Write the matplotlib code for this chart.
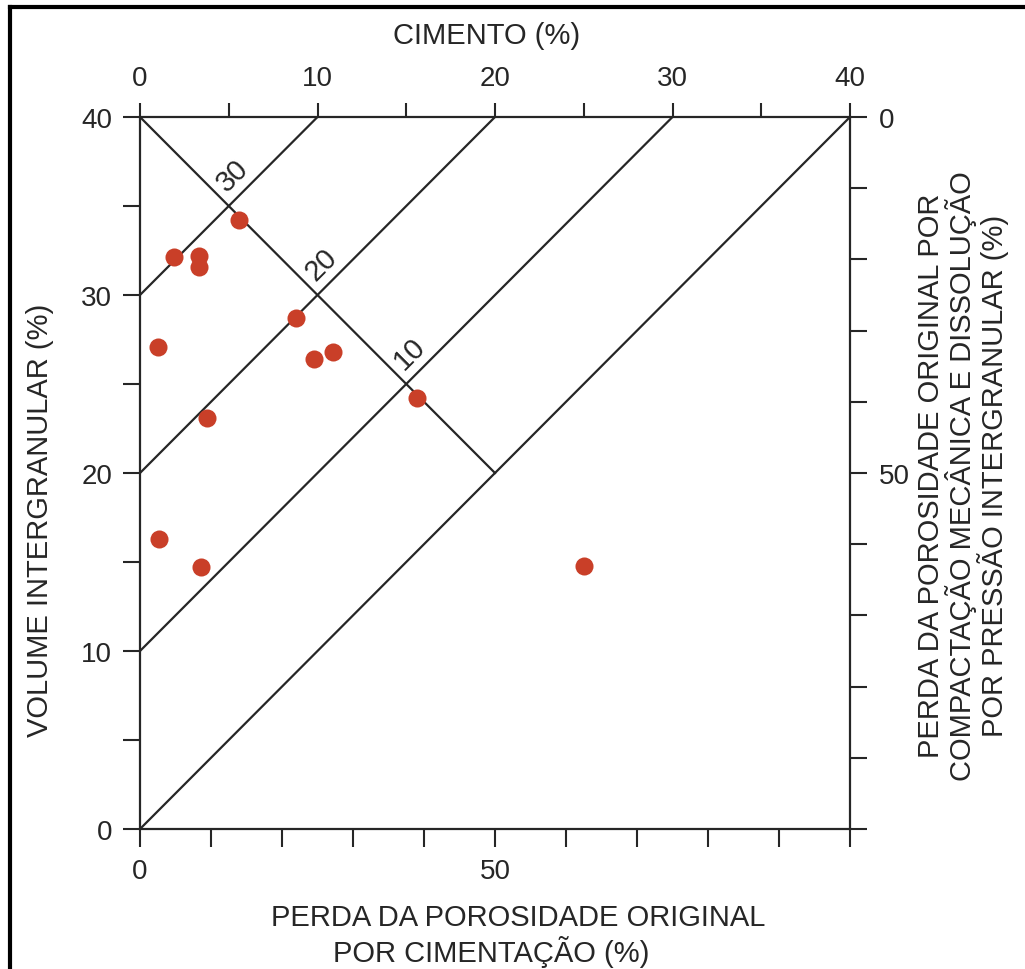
import matplotlib
matplotlib.use('Agg')
import matplotlib.pyplot as plt
from matplotlib.lines import Line2D

plt.rcParams['font.family'] = ['Liberation Sans', 'DejaVu Sans']

# Data
cimento = [5.6, 1.9, 3.3, 3.3, 1.0, 8.8, 9.8, 10.9, 3.8, 15.6, 1.05, 3.45, 25.0]
volume_ig = [34.2, 32.15, 32.2, 31.6, 27.1, 28.7, 26.4, 26.8, 23.1, 24.2, 16.3, 14.7, 14.8]

# Reference lines
linhas_offset = [30, 20, 10, 0]     # volume = cimento + offset
rotulos_diag = [30, 20, 10]         # labels on the descending line

top_ticks = [0, 10, 20, 30, 40]
top_minor = [5, 15, 25, 35]
bottom_ticks = list(range(0, 101, 10))
bottom_labels = ['0', '', '', '', '', '50', '', '', '', '', '']
right_ticks = list(range(0, 101, 10))
right_labels = ['0', '', '', '', '', '50', '', '', '', '', '']

ink = '#262626'
red = '#C93F28'
fs = 20
fs_title = 21

W, H = 1025, 970
fig = plt.figure(figsize=(W / 100, H / 100), dpi=100)
ax = fig.add_axes([140 / W, 1 - 830 / H, 710 / W, 712 / H])

# diagonal lines
for c in linhas_offset:
    ax.plot([0, 40 - c], [c, 40], color=ink, lw=1.6, solid_capstyle='butt')
ax.plot([0, 20], [40, 20], color=ink, lw=1.6)
for c in rotulos_diag:
    xi, yi = (40 - c) / 2, (40 + c) / 2
    ax.text(xi + 0.2, yi + 1.75, str(c), rotation=45, fontsize=fs + 1, color=ink,
            ha='center', va='center', rotation_mode='anchor')

ax.plot(cimento, volume_ig, 'o', color=red, markersize=13, markeredgewidth=0,
        zorder=5)

ax.set_xlim(0, 40)
ax.set_ylim(0, 40)

# bottom scale: loss by cementation
ax_b = ax.twiny()
ax_b.set_xlim(0, 100)
ax_b.xaxis.tick_bottom()
ax_b.set_xticks(bottom_ticks)
ax_b.set_xticklabels(bottom_labels)
ax_b.tick_params(axis='x', direction='out', length=13, width=1.5, color=ink,
                 labelsize=fs, labelcolor=ink, pad=8)
for s in ax_b.spines.values():
    s.set_visible(False)

# right scale: loss by compaction
ax_r = ax.twinx()
ax_r.set_ylim(100, 0)
ax_r.set_yticks(right_ticks)
ax_r.set_yticklabels(right_labels)
ax_r.tick_params(axis='y', direction='out', length=12, width=1.5, color=ink,
                 labelsize=fs, labelcolor=ink, pad=9)
for s in ax_r.spines.values():
    s.set_visible(False)

# main scales: cement on top, intergranular volume on the left
ax.xaxis.tick_top()
ax.yaxis.tick_left()
ax.set_xticks(top_ticks)
ax.set_xticks(top_minor, minor=True)
ax.set_yticks(top_ticks)
ax.set_yticks(top_minor, minor=True)
ax.tick_params(axis='x', which='both', direction='out', length=10, width=1.5,
               color=ink, labelsize=fs, labelcolor=ink, pad=9)
ax.tick_params(axis='y', which='both', direction='out', length=12, width=1.5,
               color=ink, labelsize=fs, labelcolor=ink, pad=8)
for s in ax.spines.values():
    s.set_color(ink)
    s.set_linewidth(1.6)

# axis titles
fig.text(487 / W, 1 - 36 / H, 'CIMENTO (%)', fontsize=fs_title, color=ink,
         ha='center', va='center')
fig.text(40 / W, 1 - 520 / H, 'VOLUME INTERGRANULAR (%)', fontsize=fs_title,
         color=ink, rotation=90, ha='center', va='center')
fig.text(518 / W, 1 - 918 / H, 'PERDA DA POROSIDADE ORIGINAL', fontsize=fs_title,
         color=ink, ha='center', va='center')
fig.text(491 / W, 1 - 952 / H, 'POR CIMENTAÇÃO (%)', fontsize=fs_title,
         color=ink, ha='center', va='center')
fig.text(963 / W, 1 - 476 / H,
         'PERDA DA POROSIDADE ORIGINAL POR\nCOMPACTAÇÃO MECÂNICA E DISSOLUÇÃO\nPOR PRESSÃO INTERGRANULAR (%)',
         fontsize=fs_title, color=ink, rotation=90, ha='center', va='center',
         linespacing=1.0, multialignment='center')

# outer frame
fig.add_artist(Line2D([10 / W, 10 / W], [0, 1 - 7.5 / H], color='black', lw=3,
                      transform=fig.transFigure, solid_capstyle='projecting'))
fig.add_artist(Line2D([10 / W, 1], [1 - 7.5 / H, 1 - 7.5 / H], color='black', lw=3,
                      transform=fig.transFigure, solid_capstyle='projecting'))

fig.savefig('out.png', dpi=100, facecolor='white')
